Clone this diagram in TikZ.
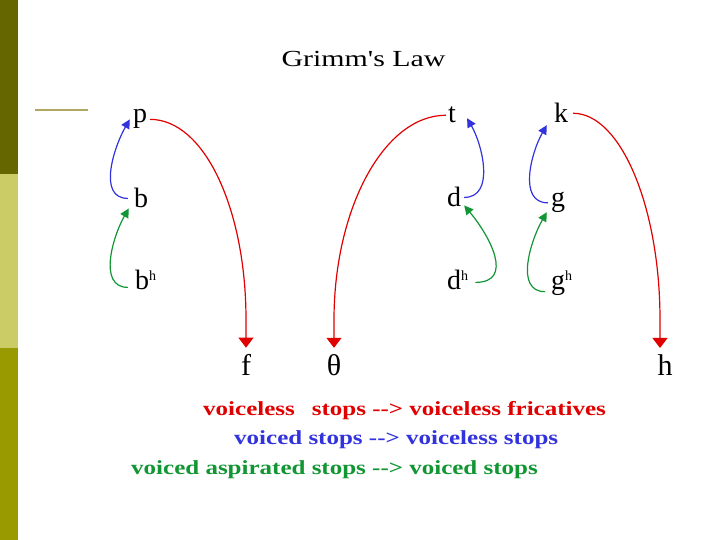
\documentclass[tikz,border=0pt]{standalone}
\usepackage{fontspec}
\setmainfont{Liberation Serif}
\newfontfamily\titlefont[FakeStretch=1.3]{Liberation Serif}
\newfontfamily\legendfont[FakeStretch=1.25]{Liberation Serif Bold}
\usetikzlibrary{arrows.meta}

\definecolor{barDark}{RGB}{102,102,0}
\definecolor{barLight}{RGB}{204,204,102}
\definecolor{barMid}{RGB}{153,153,0}
\definecolor{ruleTan}{RGB}{176,168,96}
\definecolor{gcRed}{RGB}{224,0,0}
\definecolor{gcBlue}{RGB}{51,51,221}
\definecolor{gcGreen}{RGB}{17,150,51}

\newcommand{\asp}{\raisebox{9pt}{\fontsize{14}{14}\selectfont h}}

\begin{document}
\begin{tikzpicture}[
	x=1pt, y=1pt,
	phon/.style={
		inner sep=0pt,
		anchor=base,
		font=\fontsize{28}{28}\selectfont
	},
	phonlow/.style={phon, font=\fontsize{30}{30}\selectfont},
	aspir/.style={phon, anchor=base west},
	legend/.style={inner sep=0pt, anchor=base west, font=\legendfont\fontsize{20}{20}\selectfont},
	fricarr/.style={gcRed, line width=1.2pt, -{Triangle[length=10pt,width=15pt]}},
	voicearr/.style={gcBlue, line width=1.2pt, -{Triangle[length=9pt,width=9pt]}},
	aspirarr/.style={gcGreen, line width=1.2pt, -{Triangle[length=9pt,width=9pt]}},
]

\fill[white] (0,0) rectangle (720,540);
\useasboundingbox (0,0) rectangle (720,540);

% side bar
\fill[barDark] (0,366) rectangle (18,540);
\fill[barLight] (0,192) rectangle (18,366);
\fill[barMid] (0,0) rectangle (18,192);
\draw[ruleTan, line width=2.5pt] (35,430) -- (88,430);

% title
\node[inner sep=0pt, anchor=base, font=\titlefont\fontsize{23}{23}\selectfont] (title) at (363.5,473) {Grimm's Law};

% sounds
\node[phon] (p) at (140,417) {p};
\node[phon] (b) at (141,332) {b};
\node[aspir] (bh) at (135,250) {b\asp};
\node[phonlow] (f) at (246,164) {f};
\node[phonlow] (th) at (334,164) {θ};
\node[phon] (t) at (452,417) {t};
\node[phon] (d) at (454,333) {d};
\node[aspir] (dh) at (447,250) {d\asp};
\node[phon] (k) at (561,417) {k};
\node[phon] (g) at (558,333) {g};
\node[aspir] (gh) at (551,250) {g\asp};
\node[phonlow] (h) at (665,164) {h};

% voiceless stops -> fricatives
\draw[fricarr] ([xshift=3pt]p.east) .. controls +(54,0) and +(0,111) .. ([yshift=35pt]f.north) -- ([yshift=7pt]f.north);
\draw[fricarr] ([xshift=-2pt]t.west) .. controls +(-62,0) and +(0,111) .. ([yshift=35pt]th.north) -- ([yshift=7pt]th.north);
\draw[fricarr] ([xshift=5pt]k.east) .. controls +(47,0) and +(0,114) .. ([shift={(-5,35)}]h.north) -- ([shift={(-5,7)}]h.north);

% voiced -> voiceless
\draw[voicearr] ([xshift=-6pt]b.west) to[out=180,in=240] ([xshift=-3pt]p.west);
\draw[voicearr] ([xshift=3pt]d.east) to[out=0,in=300] ([shift={(11,-3)}]t.east);
\draw[voicearr] ([xshift=-3pt]g.west) to[out=180,in=240] ([shift={(-7,-2)}]k.south west);

% aspirated -> voiced
\draw[aspirarr] ([shift={(-7,-7)}]bh.west) to[out=180,in=240] ([xshift=-5pt]b.south west);
\draw[aspirarr] ([shift={(7,-2)}]dh.east) to[out=0,in=310,looseness=1.3] ([shift={(3,2)}]d.south east);
\draw[aspirarr] ([shift={(-6,-8)}]gh.west) to[out=180,in=240] ([shift={(-4,1)}]g.south west);

% legend
\node[legend, gcRed] (lvl) at (203,124) {voiceless\hspace{17pt}stops {-}{-}> voiceless fricatives};
\node[legend, gcBlue] (lvd) at (234,95) {voiced stops {-}{-}> voiceless stops};
\node[legend, gcGreen] (lasp) at (131,65) {voiced aspirated stops {-}{-}> voiced stops};

\end{tikzpicture}
\end{document}
